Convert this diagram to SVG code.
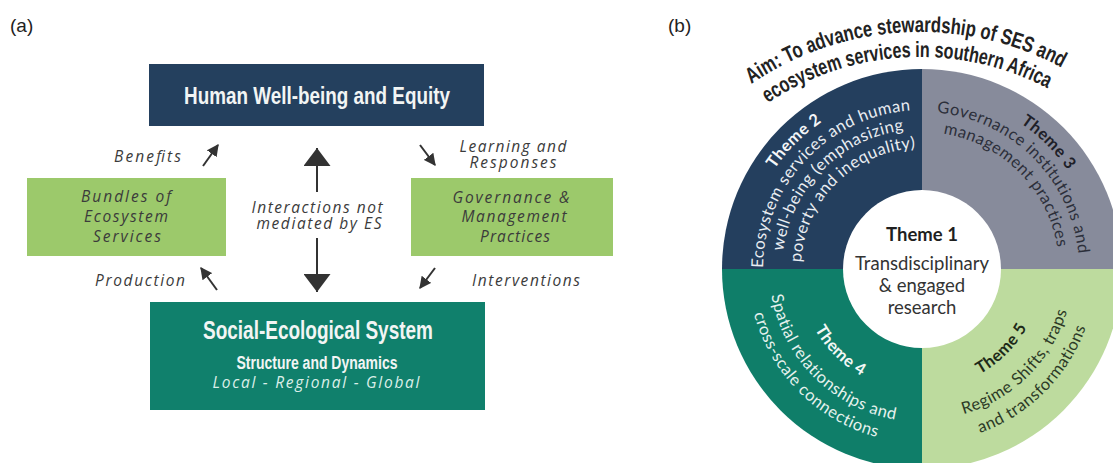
<svg xmlns="http://www.w3.org/2000/svg" width="1113" height="463" viewBox="0 0 1113 463">
<style>
.lbl{font-family:"Liberation Sans",Arial,sans-serif;font-size:19px;fill:#222}
.it{font-family:"Open Sans",Lato,sans-serif;font-style:italic;font-size:15.5px;fill:#3b3b3b}
.cond{font-family:"Liberation Sans",Arial,sans-serif;font-weight:bold}
.wt{fill:#f2f5f4}
.ring{font-family:Lato,"Open Sans",sans-serif;font-size:16.5px;letter-spacing:0.5px}
.hb{font-weight:bold}
.arr{stroke:#333;stroke-width:2;fill:none}
.ctr{font-family:Lato,"Open Sans",sans-serif;font-size:18.5px;fill:#333;text-anchor:middle}
</style>
<defs>
<marker id="sm" viewBox="0 0 10 10" refX="9" refY="5" markerWidth="12" markerHeight="12" markerUnits="userSpaceOnUse" orient="auto"><path d="M0,0 L10,5 L0,10 z" fill="#333"/></marker>
<marker id="big" viewBox="0 0 18 27" refX="18" refY="13.5" markerWidth="18" markerHeight="27" markerUnits="userSpaceOnUse" orient="auto"><path d="M0,0 L18,13.5 L0,27 z" fill="#333"/></marker>
<path id="t1" d="M660.19,182 A300,300 0 0 1 1179.81,182"/>
<path id="t2" d="M681.84,194.5 A275,275 0 0 1 1158.16,194.5"/>
<path id="p2h" d="M796.14,394.86 A178,178 0 0 1 796.14,143.14 A178,178 0 0 1 1047.86,143.14"/>
<path id="p2a" d="M809.57,381.43 A159,159 0 0 1 809.57,156.57 A159,159 0 0 1 1034.43,156.57"/>
<path id="p2b" d="M823.01,367.99 A140,140 0 0 1 823.01,170.01 A140,140 0 0 1 1020.99,170.01"/>
<path id="p2c" d="M836.44,354.56 A121,121 0 0 1 836.44,183.44 A121,121 0 0 1 1007.56,183.44"/>
<path id="p3h" d="M797.55,144.55 A176,176 0 0 1 1046.45,144.55 A176,176 0 0 1 1046.45,393.45"/>
<path id="p3a" d="M810.99,157.99 A157,157 0 0 1 1033.01,157.99 A157,157 0 0 1 1033.01,380.01"/>
<path id="p3b" d="M825.13,172.13 A137,137 0 0 1 1018.87,172.13 A137,137 0 0 1 1018.87,365.87"/>
<path id="p4h" d="M835.03,182.03 A123,123 0 0 0 835.03,355.97 A123,123 0 0 0 1008.97,355.97"/>
<path id="p4a" d="M813.81,160.81 A153,153 0 0 0 813.81,377.19 A153,153 0 0 0 1030.19,377.19"/>
<path id="p4b" d="M798.96,145.96 A174,174 0 0 0 798.96,392.04 A174,174 0 0 0 1045.04,392.04"/>
<path id="p5h" d="M837.15,353.85 A120,120 0 0 0 1006.85,353.85 A120,120 0 0 0 1006.85,184.15"/>
<path id="p5a" d="M815.23,375.77 A151,151 0 0 0 1028.77,375.77 A151,151 0 0 0 1028.77,162.23"/>
<path id="p5b" d="M798.96,392.04 A174,174 0 0 0 1045.04,392.04 A174,174 0 0 0 1045.04,145.96"/>
</defs>
<rect width="1113" height="463" fill="#fff"/>
<text class="lbl" x="10" y="32">(a)</text>
<text class="lbl" x="668" y="32">(b)</text>

<g id="human">
<rect x="149" y="64" width="335" height="62" fill="#24405e"/>
<text class="cond wt" x="317" y="104" font-size="24" text-anchor="middle" textLength="266" lengthAdjust="spacingAndGlyphs">Human Well-being and Equity</text>
</g>
<g id="bundles">
<rect x="27" y="178" width="199" height="78" fill="#9cc96b"/>
<text class="it" x="126" y="202" text-anchor="middle" textLength="90">Bundles of</text>
<text class="it" x="126" y="222" text-anchor="middle" textLength="84">Ecosystem</text>
<text class="it" x="127" y="242" text-anchor="middle" textLength="68">Services</text>
</g>
<g id="governance">
<rect x="411" y="178" width="202" height="78" fill="#9cc96b"/>
<text class="it" x="511" y="203" text-anchor="middle" textLength="117">Governance &amp;</text>
<text class="it" x="514" y="222" text-anchor="middle" textLength="105">Management</text>
<text class="it" x="515" y="242" text-anchor="middle" textLength="70">Practices</text>
</g>
<g id="ses">
<rect x="150" y="302" width="335" height="108" fill="#10806c"/>
<text class="cond wt" x="318" y="339" font-size="25" text-anchor="middle" textLength="230" lengthAdjust="spacingAndGlyphs">Social-Ecological System</text>
<text class="cond wt" x="317" y="369" font-size="18" text-anchor="middle" textLength="161" lengthAdjust="spacingAndGlyphs">Structure and Dynamics</text>
<text class="it" x="316" y="388" text-anchor="middle" textLength="207" style="fill:#dcefe9">Local - Regional - Global</text>
</g>
<g id="labels">
<text class="it" x="181" y="162" text-anchor="end" textLength="67">Benefits</text>
<text class="it" x="513" y="152" text-anchor="middle" textLength="107">Learning and</text>
<text class="it" x="513" y="168" text-anchor="middle" textLength="87">Responses</text>
<text class="it" x="317" y="213" text-anchor="middle" textLength="131">Interactions not</text>
<text class="it" x="319" y="229" text-anchor="middle" textLength="125">mediated by ES</text>
<text class="it" x="185" y="286" text-anchor="end" textLength="90">Production</text>
<text class="it" x="472" y="286" textLength="108">Interventions</text>
</g>
<g id="connectors">
<line class="arr" x1="203" y1="166" x2="218" y2="145" marker-end="url(#sm)"/>
<line class="arr" x1="420" y1="145" x2="435" y2="165" marker-end="url(#sm)"/>
<line class="arr" x1="217" y1="290" x2="201" y2="268" marker-end="url(#sm)"/>
<line class="arr" x1="435" y1="268" x2="420" y2="288" marker-end="url(#sm)"/>
<line class="arr" x1="317" y1="192" x2="317" y2="148" marker-end="url(#big)"/>
<line class="arr" x1="317" y1="238" x2="317" y2="292" marker-end="url(#big)"/>
</g>

<g id="aim">
<text class="cond" font-size="22" fill="#222"><textPath href="#t1" startOffset="47.5%" text-anchor="middle" textLength="327" lengthAdjust="spacingAndGlyphs">Aim: To advance stewardship of SES and</textPath></text>
<text class="cond" font-size="22" fill="#222"><textPath href="#t2" startOffset="47.5%" text-anchor="middle" textLength="294" lengthAdjust="spacingAndGlyphs">ecosystem services in southern Africa</textPath></text>
</g>
<g id="theme2">
<path d="M922,269 L722,269 A200,200 0 0 1 922,69 Z" fill="#243f5e"/>
<text class="ring hb" fill="#f4f6f8"><textPath href="#p2h" startOffset="50%" text-anchor="middle">Theme 2</textPath></text>
<text class="ring" fill="#e9edf2"><textPath href="#p2a" startOffset="49%" text-anchor="middle">Ecosystem services and human</textPath></text>
<text class="ring" fill="#e9edf2"><textPath href="#p2b" startOffset="50%" text-anchor="middle">well-being (emphasizing</textPath></text>
<text class="ring" fill="#e9edf2"><textPath href="#p2c" startOffset="50%" text-anchor="middle">poverty and inequality)</textPath></text>
</g>
<g id="theme3">
<path d="M922,269 L922,69 A200,200 0 0 1 1122,269 Z" fill="#878b9b"/>
<text class="ring hb" fill="#1e2028"><textPath href="#p3h" startOffset="50%" text-anchor="middle">Theme 3</textPath></text>
<text class="ring" fill="#2c2f3a"><textPath href="#p3a" startOffset="50%" text-anchor="middle">Governance institutions and</textPath></text>
<text class="ring" fill="#2c2f3a"><textPath href="#p3b" startOffset="50%" text-anchor="middle">management practices</textPath></text>
</g>
<g id="theme5">
<path d="M922,269 L1122,269 A200,200 0 0 1 922,469 Z" fill="#bddb9e"/>
<text class="ring hb" fill="#1d2a18"><textPath href="#p5h" startOffset="50%" text-anchor="middle">Theme 5</textPath></text>
<text class="ring" fill="#2c3a26"><textPath href="#p5a" startOffset="50%" text-anchor="middle">Regime Shifts, traps</textPath></text>
<text class="ring" fill="#2c3a26"><textPath href="#p5b" startOffset="50%" text-anchor="middle">and transformations</textPath></text>
</g>
<g id="theme4">
<path d="M922,269 L922,469 A200,200 0 0 1 722,269 Z" fill="#0f7e69"/>
<text class="ring hb" fill="#f2f7f5"><textPath href="#p4h" startOffset="50%" text-anchor="middle">Theme 4</textPath></text>
<text class="ring" fill="#e6f2ee"><textPath href="#p4a" startOffset="50%" text-anchor="middle">Spatial relationships and</textPath></text>
<text class="ring" fill="#e6f2ee"><textPath href="#p4b" startOffset="50%" text-anchor="middle">cross-scale connections</textPath></text>
</g>
<g id="theme1">
<circle cx="922" cy="269" r="79" fill="#fff"/>
<text class="ctr" x="922" y="241" font-weight="bold" style="fill:#1f1f1f">Theme 1</text>
<text class="ctr" x="922" y="270">Transdisciplinary</text>
<text class="ctr" x="922" y="292">&amp; engaged</text>
<text class="ctr" x="922" y="314">research</text>
</g>
</svg>
